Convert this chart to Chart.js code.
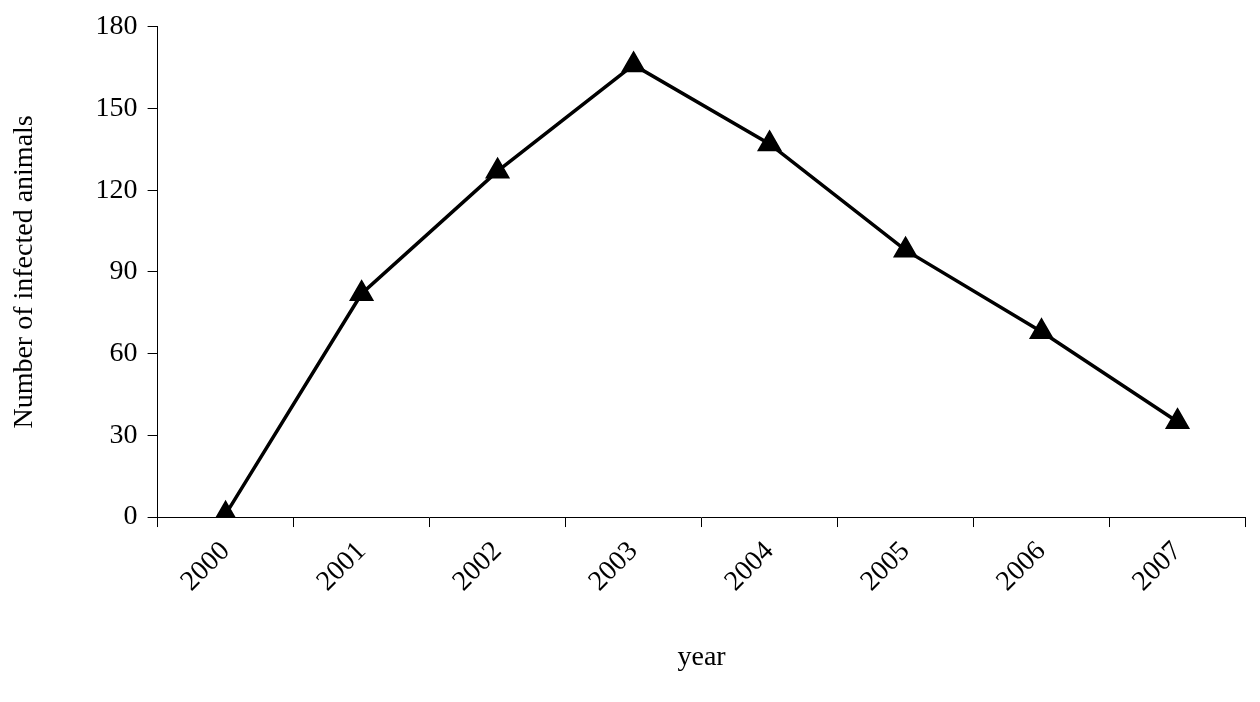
<!DOCTYPE html>
<html>
<head>
<meta charset="utf-8">
<script src="https://cdn.jsdelivr.net/npm/chart.js@4"></script>
<style>
  html, body { margin: 0; padding: 0; background: #fff; }
  #wrap { width: 1260px; height: 702px; }
</style>
</head>
<body>
<div id="wrap"><canvas id="myChart"></canvas></div>
<script>
const years = ['2000', '2001', '2002', '2003', '2004', '2005', '2006', '2007'];
const infected = [1, 82, 127, 166, 137, 98, 68, 35];
const yTicks = [0, 30, 60, 90, 120, 150, 180];

const font = { family: '"Liberation Serif", "Times New Roman", serif', size: 28 };

const config = {
  type: 'line',
  data: {
    labels: years,
    datasets: [{
      label: 'Number of infected animals',
      data: infected,
      borderColor: 'black',
      backgroundColor: 'black',
      borderWidth: 3.5,
      pointStyle: 'triangle',
      pointRadius: 11,
      pointHoverRadius: 11,
      tension: 0
    }]
  },
  options: {
    responsive: true,
    maintainAspectRatio: false,
    animation: false,
    layout: { padding: { top: 0, right: 11, left: 4, bottom: 24 } },
    plugins: { legend: { display: false }, tooltip: { enabled: false } },
    scales: {
      x: {
        offset: true,
        grid: { offset: true, drawOnChartArea: false, color: 'black', tickLength: 10 },
        border: { color: 'black', width: 1 },
        ticks: { color: 'black', font: font, maxRotation: 45, minRotation: 45, padding: 8 },
        title: { display: true, text: 'year', color: 'black', font: font, padding: { top: 34 } }
      },
      y: {
        min: 0,
        max: 180,
        afterBuildTicks: axis => { axis.ticks = yTicks.map(v => ({ value: v })); },
        grid: { drawOnChartArea: false, color: 'black', tickLength: 10 },
        border: { color: 'black', width: 1 },
        ticks: { color: 'black', font: font, padding: 10 },
        title: { display: true, text: 'Number of infected animals', color: 'black', font: font, padding: { bottom: 44 } }
      }
    }
  }
};

new Chart(document.getElementById('myChart'), config);
</script>
</body>
</html>
